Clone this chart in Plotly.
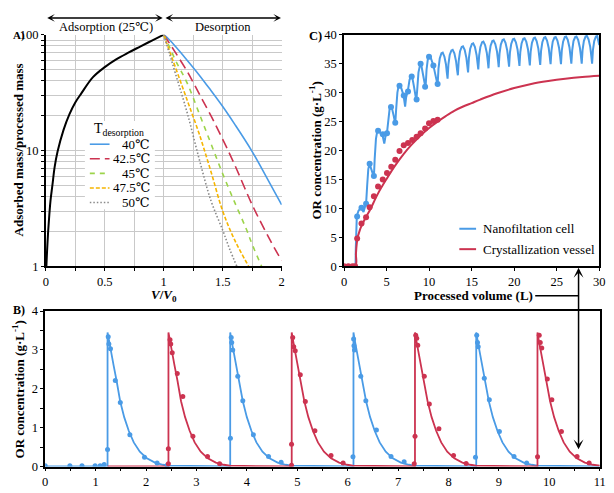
import plotly.graph_objects as go

W, H = 614, 493
OFF = 8  # the page body margin shifts the figure by this many pixels
def px(x): return (x - OFF) / W
def py(y): return 1 - (y - OFF) / H

# ---------------- Panel A data ----------------
ads_x = [0.005, 0.01, 0.02, 0.03, 0.04, 0.056, 0.075, 0.1, 0.15, 0.2, 0.25, 0.3, 0.4, 0.5, 0.6, 0.7, 0.8, 0.9, 1.0]
ads_y = [1.0, 1.3, 2.0, 2.8, 3.7, 5.0, 7.2, 9.8, 15, 20.5, 26, 31, 43, 52.5, 61.5, 70, 79, 89, 100]

des40_x = [1.0, 1.05, 1.1, 1.2, 1.3, 1.4, 1.5, 1.6, 1.75, 1.9, 2.0]
des40_y = [100, 90, 79, 60, 45, 33, 24, 17, 9.8, 5.2, 3.4]
des425_x = [1.0, 1.05, 1.1, 1.2, 1.3, 1.4, 1.5, 1.6, 1.75, 1.9, 2.0]
des425_y = [100, 84, 70, 48, 31, 20, 12.5, 7.6, 3.4, 1.7, 1.12]
des45_x = [1.0, 1.05, 1.1, 1.2, 1.3, 1.4, 1.5, 1.6, 1.7, 1.75, 1.83]
des45_y = [100, 78, 60, 38, 21, 11.5, 6.3, 3.6, 2.1, 1.55, 1.0]
des475_x = [1.0, 1.05, 1.1, 1.2, 1.3, 1.4, 1.5, 1.6, 1.72]
des475_y = [100, 72, 52, 27, 14, 6.6, 3.0, 1.7, 1.0]
des50_x = [1.0, 1.05, 1.1, 1.2, 1.3, 1.4, 1.5, 1.56, 1.62]
des50_y = [100, 68, 46, 21, 8.5, 3.7, 2.05, 1.4, 1.0]

a_xticks = [0, 0.25, 0.5, 0.75, 1, 1.25, 1.5, 1.75, 2]
a_xtext = ["0", "", "0.5", "", "1", "", "1.5", "", "2"]
a_yticks = [1, 2, 3, 4, 5, 6, 7, 8, 9, 10, 20, 30, 40, 50, 60, 70, 80, 90, 100]
a_ytext = ["1", "", "", "", "", "", "", "", "", "10", "", "", "", "", "", "", "", "", "100"]
legend_a_labels = ["40℃", "42.5℃", "45℃", "47.5℃", "50℃"]

# ---------------- Panel C data ----------------
c_nf_x = [0, 1.35, 1.38, 1.45, 1.5, 1.7, 2.0, 2.29,
          2.5, 2.6, 2.72, 2.85, 3.0, 3.2, 3.51,
          3.6, 3.75, 3.9, 4.0, 4.2, 4.5, 4.73,
          4.85, 5.05, 5.2, 5.35, 5.5, 5.65, 5.85, 6.02,
          6.12, 6.27, 6.42, 6.52, 6.72, 7.0, 7.18,
          7.3, 7.5, 7.7, 7.9, 8.0, 8.2, 8.5,
          8.6, 8.75, 8.95, 9.05, 9.3, 9.58,
          9.7, 9.85, 10.0, 10.2, 10.5, 10.75,
          11.0, 11.1, 11.25, 11.45, 11.6, 11.8, 11.98, 12.08,
          12.17, 12.27, 12.42, 12.62, 12.77, 12.97, 13.17, 13.29,
          13.38, 13.48, 13.63, 13.83, 13.98, 14.18, 14.38, 14.5,
          14.58, 14.68, 14.83, 15.03, 15.18, 15.38, 15.58, 15.7,
          15.78, 15.88, 16.03, 16.23, 16.38, 16.58, 16.78, 16.9,
          16.98, 17.08, 17.23, 17.43, 17.58, 17.78, 17.98, 18.1,
          18.18, 18.28, 18.43, 18.63, 18.78, 18.98, 19.18, 19.3,
          19.4, 19.5, 19.65, 19.85, 20.0, 20.2, 20.4, 20.52,
          20.62, 20.72, 20.87, 21.07, 21.22, 21.42, 21.62, 21.74,
          21.84, 21.94, 22.09, 22.29, 22.44, 22.64, 22.84, 22.96,
          23.06, 23.16, 23.31, 23.51, 23.66, 23.86, 24.06, 24.18,
          24.28, 24.38, 24.53, 24.73, 24.88, 25.08, 25.28, 25.4,
          25.5, 25.6, 25.75, 25.95, 26.1, 26.3, 26.5, 26.62,
          26.72, 26.82, 26.97, 27.17, 27.32, 27.52, 27.72, 27.84,
          27.94, 28.04, 28.19, 28.39, 28.54, 28.74, 28.94, 29.06,
          29.16, 29.26, 29.41, 29.61, 29.76, 30.0]
c_nf_y = [0, 0, 3.0, 7.5, 8.7, 9.6, 10.1, 9.4,
          10.7, 11.0, 14.0, 16.8, 17.7, 16.8, 15.4,
          18.5, 22.0, 23.3, 23.4, 23.1, 22.8, 21.2,
          22.3, 23.1, 25.5, 27.1, 27.5, 27.2, 25.9, 24.6,
          27.0, 30.0, 31.2, 31.3, 30.8, 29.5, 27.6,
          29.2, 30.3, 32.2, 32.9, 32.8, 31.2, 28.6,
          30.5, 33.5, 34.9, 35.0, 33.0, 30.8,
          34.0, 35.8, 36.2, 36.0, 34.7, 33.0,
          31.3, 34.1, 35.9, 36.8, 36.9, 36.2, 34.9, 33.5,
          32.4, 34.9, 36.5, 37.3, 37.4, 36.8, 35.4, 33.9,
          33.0, 35.5, 37.1, 37.9, 38.0, 37.4, 36.0, 34.5,
          33.5, 36.0, 37.6, 38.4, 38.5, 37.9, 36.5, 35.0,
          34.0, 36.4, 37.9, 38.7, 38.8, 38.2, 36.9, 35.4,
          34.2, 36.6, 38.1, 38.9, 39.0, 38.4, 37.1, 35.6,
          34.4, 36.8, 38.3, 39.1, 39.2, 38.6, 37.3, 35.8,
          34.5, 36.9, 38.4, 39.2, 39.3, 38.7, 37.4, 35.9,
          34.6, 37.0, 38.5, 39.3, 39.4, 38.8, 37.5, 36.0,
          34.7, 37.1, 38.6, 39.4, 39.5, 38.9, 37.6, 36.1,
          34.8, 37.2, 38.7, 39.5, 39.6, 39.0, 37.7, 36.2,
          34.9, 37.2, 38.8, 39.5, 39.6, 39.0, 37.7, 36.3,
          34.9, 37.3, 38.8, 39.6, 39.7, 39.1, 37.8, 36.3,
          35.0, 37.3, 38.9, 39.6, 39.7, 39.1, 37.8, 36.4,
          35.0, 37.4, 38.9, 39.7, 39.8, 39.2, 37.9, 36.4,
          35.0, 37.4, 38.9, 39.7, 39.8, 38.2]
c_nf_mx = [1.54, 2.05, 2.59, 3.01, 3.51, 4.0, 4.55, 5.05, 5.52, 6.02, 6.52, 7.02, 7.52, 7.95, 8.53, 9.0, 9.53, 9.99, 10.5, 11.0]
c_nf_my = [8.6, 10.1, 10.8, 17.7, 15.6, 23.4, 22.8, 23.0, 27.5, 24.8, 31.2, 29.5, 30.2, 32.8, 28.8, 35.0, 31.0, 36.2, 34.7, 31.5]

c_cv_x = [0, 1.33, 1.4, 1.5, 1.6, 1.8, 2.0, 2.5, 3.0, 4.0, 5.0, 6.0, 7.0, 8.0, 9.0, 10.0, 11.0, 12.0,
          13.0, 14.0, 15.0, 16.0, 18.0, 20.0, 22.0, 24.0, 26.0, 28.0, 30.0]
c_cv_y = [0, 0, 2.2, 4.0, 5.0, 6.0, 6.8, 8.3, 9.6, 12.6, 15.1, 17.4, 19.4, 21.1, 22.6, 23.9, 25.0, 26.0,
          26.9, 27.6, 28.2, 28.8, 29.9, 30.8, 31.5, 32.0, 32.4, 32.7, 32.9]
c_cv_mx = [0, 0.5, 1.0, 1.3, 1.54, 2.05, 2.59, 3.01, 3.51, 4.0, 4.55, 5.05, 5.55, 6.02, 6.52, 7.02,
           7.52, 8.02, 8.53, 9.0, 9.53, 9.99, 10.5, 11.0]
c_cv_my = [0, 0, 0, 0, 4.8, 7.4, 8.5, 10.2, 12.1, 13.8, 15.0, 16.1, 17.2, 18.4, 19.9, 20.9,
           21.3, 21.8, 22.4, 23.0, 23.8, 24.7, 25.1, 25.3]

# ---------------- Panel B data ----------------
b_blue_x = [0,
            1.237, 1.237, 1.267, 1.307, 1.357, 1.417, 1.487, 1.567, 1.657, 1.757, 1.877, 2.017, 2.177, 2.337, 2.445,
            3.67, 3.67, 3.70, 3.74, 3.79, 3.85, 3.92, 4.00, 4.09, 4.19, 4.31, 4.45, 4.61, 4.77, 4.88,
            6.115, 6.115, 6.145, 6.185, 6.235, 6.295, 6.365, 6.445, 6.535, 6.635, 6.755, 6.895, 7.055, 7.215, 7.325,
            8.55, 8.55, 8.58, 8.62, 8.67, 8.73, 8.80, 8.88, 8.97, 9.07, 9.19, 9.33, 9.49, 9.65, 9.76,
            11.0]
b_blue_y = [0,
            0, 3.45, 3.22, 2.95, 2.6, 2.2, 1.68, 1.27, 0.92, 0.62, 0.38, 0.21, 0.1, 0.045, 0.02,
            0, 3.45, 3.22, 2.95, 2.6, 2.2, 1.68, 1.27, 0.92, 0.62, 0.38, 0.21, 0.1, 0.045, 0.02,
            0, 3.45, 3.22, 2.95, 2.6, 2.2, 1.68, 1.27, 0.92, 0.62, 0.38, 0.21, 0.1, 0.045, 0.02,
            0, 3.45, 3.22, 2.95, 2.6, 2.2, 1.68, 1.27, 0.92, 0.62, 0.38, 0.21, 0.1, 0.045, 0.02,
            0]
b_red_x = [1.237,
           2.445, 2.445, 2.475, 2.515, 2.565, 2.625, 2.695, 2.775, 2.865, 2.965, 3.085, 3.225, 3.385, 3.545, 3.66,
           4.89, 4.89, 4.92, 4.96, 5.01, 5.07, 5.14, 5.22, 5.31, 5.41, 5.53, 5.67, 5.83, 5.99, 6.10,
           7.335, 7.335, 7.365, 7.405, 7.455, 7.515, 7.585, 7.665, 7.755, 7.855, 7.975, 8.115, 8.275, 8.435, 8.545,
           9.765, 9.765, 9.795, 9.835, 9.885, 9.945, 10.015, 10.095, 10.185, 10.285, 10.405, 10.545, 10.705, 10.865, 11.0]
b_red_y = [0,
           0, 3.45, 3.22, 2.95, 2.6, 2.2, 1.68, 1.27, 0.92, 0.62, 0.38, 0.21, 0.1, 0.045, 0.02,
           0, 3.45, 3.22, 2.95, 2.6, 2.2, 1.68, 1.27, 0.92, 0.62, 0.38, 0.21, 0.1, 0.045, 0.02,
           0, 3.45, 3.22, 2.95, 2.6, 2.2, 1.68, 1.27, 0.92, 0.62, 0.38, 0.21, 0.1, 0.045, 0.02,
           0, 3.45, 3.22, 2.95, 2.6, 2.2, 1.68, 1.27, 0.92, 0.62, 0.38, 0.21, 0.1, 0.045, 0.02]
b_blue_mx = [0, 0.49, 0.73, 0.99, 1.09, 1.17,
             1.237, 1.25, 1.263, 1.295, 1.39, 1.49, 1.68, 1.97, 2.22, 2.42,
             3.674, 3.69, 3.70, 3.72, 3.82, 3.92, 4.13, 4.43, 4.68,
             6.105, 6.118, 6.125, 6.135, 6.26, 6.36, 6.57, 6.86, 7.12,
             8.535, 8.56, 8.575, 8.59, 8.71, 8.81, 9.01, 9.3, 9.55]
b_blue_my = [0.02, 0.02, 0.02, 0.02, 0.02, 0.05,
             0.44, 3.34, 3.15, 3.03, 2.21, 1.65, 0.82, 0.24, 0.09, 0.03,
             0.73, 3.32, 3.19, 3.0, 2.32, 1.69, 0.82, 0.26, 0.11,
             0.25, 3.28, 3.11, 3.0, 2.32, 1.69, 0.94, 0.26, 0.12,
             0.24, 3.38, 3.19, 3.08, 2.27, 1.72, 0.9, 0.26, 0.09]
b_red_mx = [2.443, 2.443, 2.476, 2.49, 2.52, 2.62, 2.73, 2.93, 3.22, 3.46,
            4.887, 4.887, 4.91, 4.93, 4.96, 5.06, 5.16, 5.35, 5.67, 5.91,
            7.32, 7.336, 7.35, 7.37, 7.39, 7.52, 7.62, 7.81, 8.1, 8.35,
            9.766, 9.80, 9.82, 9.85, 9.96, 10.05, 10.24, 10.55, 10.79]
b_red_my = [0.07, 0.46, 3.26, 3.15, 2.93, 2.39, 1.8, 0.78, 0.26, 0.07,
            0.03, 0.57, 3.32, 3.08, 2.98, 2.36, 1.67, 0.92, 0.28, 0.09,
            0.07, 0.78, 3.38, 3.3, 3.12, 2.32, 1.61, 0.97, 0.28, 0.08,
            0.25, 3.38, 3.19, 3.05, 2.25, 1.72, 0.9, 0.26, 0.09]

# ---------------- styling ----------------
BLUE = "#4a9be6"
RED = "#cc3350"
GREEN = "#9cd44a"
YELLOW = "#f6b500"
GRAY = "#8a8a8a"
FONT = "Liberation Serif, Times New Roman, DejaVu Serif, serif"

fig = go.Figure()

# Panel A traces
fig.add_trace(go.Scatter(x=ads_x, y=ads_y, mode="lines", line=dict(color="black", width=2, shape="spline"),
                         name="Adsorption", showlegend=False, xaxis="x", yaxis="y"))
des_sets = [(des40_x, des40_y, BLUE, "solid", "40℃"),
            (des425_x, des425_y, RED, "10px,5px", "42.5℃"),
            (des45_x, des45_y, GREEN, "5px,5px", "45℃"),
            (des475_x, des475_y, YELLOW, "4px,2px", "47.5℃"),
            (des50_x, des50_y, GRAY, "1.5px,2px", "50℃")]
for dx, dy, col, dash, nm in des_sets:
    fig.add_trace(go.Scatter(x=dx, y=dy, mode="lines", line=dict(color=col, width=1.6, dash=dash, shape="spline"),
                             name=nm, showlegend=False, xaxis="x", yaxis="y"))

# Panel C traces
fig.add_trace(go.Scatter(x=c_nf_x, y=c_nf_y, mode="lines", line=dict(color=BLUE, width=2),
                         name="Nanofiltation cell", showlegend=False, xaxis="x2", yaxis="y2"))
fig.add_trace(go.Scatter(x=c_cv_x, y=c_cv_y, mode="lines", line=dict(color=RED, width=2, shape="spline"),
                         name="Crystallization vessel", showlegend=False, xaxis="x2", yaxis="y2"))
fig.add_trace(go.Scatter(x=c_nf_mx, y=c_nf_my, mode="markers", marker=dict(color=BLUE, size=6),
                         showlegend=False, xaxis="x2", yaxis="y2"))
fig.add_trace(go.Scatter(x=c_cv_mx, y=c_cv_my, mode="markers", marker=dict(color=RED, size=6),
                         showlegend=False, xaxis="x2", yaxis="y2"))

# Panel B traces
fig.add_trace(go.Scatter(x=b_blue_x, y=b_blue_y, mode="lines", line=dict(color=BLUE, width=1.8),
                         showlegend=False, xaxis="x3", yaxis="y3"))
fig.add_trace(go.Scatter(x=b_red_x, y=b_red_y, mode="lines", line=dict(color=RED, width=1.8),
                         showlegend=False, xaxis="x3", yaxis="y3"))
fig.add_trace(go.Scatter(x=b_blue_mx, y=b_blue_my, mode="markers", marker=dict(color=BLUE, size=5),
                         showlegend=False, xaxis="x3", yaxis="y3"))
fig.add_trace(go.Scatter(x=b_red_mx, y=b_red_my, mode="markers", marker=dict(color=RED, size=5),
                         showlegend=False, xaxis="x3", yaxis="y3"))

tickfont = dict(family=FONT, size=12.5, color="black")
common = dict(showline=True, linecolor="black", linewidth=1.5, ticks="outside", ticklen=3,
              tickcolor="black", tickwidth=1.2, zeroline=False, tickfont=tickfont)

fig.update_layout(
    width=W, height=H, margin=dict(l=0, r=0, t=0, b=0),
    paper_bgcolor="white", plot_bgcolor="white", showlegend=False,
    font=dict(family=FONT, color="black"),
    xaxis=dict(domain=[px(43.3), px(282.7)], range=[0, 2], tickvals=a_xticks, ticktext=a_xtext,
               showgrid=True, gridcolor="#c9c9c9", gridwidth=1, anchor="y", **common),
    yaxis=dict(domain=[py(266.7), py(28.3)], type="log", range=[0, 2], tickvals=a_yticks, ticktext=a_ytext,
               showgrid=True, gridcolor="#c9c9c9", gridwidth=1, anchor="x", **common),
    xaxis2=dict(domain=[px(346), px(605)], range=[0, 30], dtick=5, showgrid=False, mirror=True,
                anchor="y2", **common),
    yaxis2=dict(domain=[py(266.7), py(28.3)], range=[0, 40], dtick=5, showgrid=False, mirror=True,
                anchor="x2", **common),
    xaxis3=dict(domain=[px(42.7), px(605.5)], range=[0, 11], dtick=1, showgrid=False, mirror=True,
                minor=dict(dtick=0.5, ticks="outside", ticklen=3, tickcolor="black"),
                anchor="y3", **common),
    yaxis3=dict(domain=[py(472.7), py(312.7)], range=[0, 4], dtick=1, showgrid=False, mirror=True,
                minor=dict(dtick=0.5, ticks="outside", ticklen=3, tickcolor="black"),
                anchor="x3", **common),
)

ann = []
def text(x, y, t, size=13, xanchor="center", yanchor="middle", angle=0):
    ann.append(dict(x=px(x), y=py(y), xref="paper", yref="paper", text=t, showarrow=False,
                    xanchor=xanchor, yanchor=yanchor, textangle=angle,
                    font=dict(family=FONT, size=size, color="black")))

def arrow(x1, y1, x0, y0, size=1.1):
    ann.append(dict(x=px(x1), y=py(y1), xref="paper", yref="paper", ax=x0 - x1, ay=y0 - y1,
                    axref="pixel", ayref="pixel", text="", showarrow=True, arrowhead=3, arrowside="end+start",
                    arrowsize=size, arrowwidth=1.5, arrowcolor="black", standoff=0, startstandoff=0))

# panel labels
text(8, 29, "<b>A)</b>", 11, xanchor="left")
text(8, 312, "<b>B)</b>", 12, xanchor="left")
text(317, 30, "<b>C)</b>", 12.5)
# top arrows
arrow(162, 11, 45, 11, 0.85)
arrow(282, 11, 165, 11, 0.85)
text(104, 20, "Adsorption (25℃)", 12.5)
text(223, 20, "Desorption", 12.5)
# axis titles
text(15.5, 147, "<b>Adsorbed mass/processed mass</b>", 13, angle=-90)
text(163, 297, "<b><i>V</i>/<i>V</i><sub>0</sub></b>", 13)
text(317, 147, "<b>OR concentration (g·L<sup>-1</sup>)</b>", 13, angle=-90)
text(15.5, 393, "<b>OR concentration (g·L<sup>-1</sup>)</b>", 13, angle=-90)
text(477, 297, "<b>Processed volume (L)</b>", 13)
# linking arrow
arrow(584, 455, 584, 272)

# legend A (manual)
text(90, 126, "T<sub>desorption</sub>", 14, xanchor="left")
leg_y = [141, 156, 171, 186, 201]
leg_cols = [BLUE, RED, GREEN, YELLOW, GRAY]
leg_dash = ["solid", "10px,5px", "5px,5px", "4px,2px", "1.5px,2px"]
shapes = [dict(type="rect", xref="paper", yref="paper", x0=px(83), x1=px(154), y0=py(208), y1=py(117),
               fillcolor="white", line=dict(width=0), layer="above")]
for yy, col, dsh, lab in zip(leg_y, leg_cols, leg_dash, legend_a_labels):
    shapes.append(dict(type="line", xref="paper", yref="paper", x0=px(88), x1=px(108), y0=py(yy), y1=py(yy),
                       line=dict(color=col, width=1.6, dash=dsh), layer="above"))
    text(151, yy, lab, 13, xanchor="right")

# legend C (manual)
for yy, col, lab in [(228, BLUE, "Nanofiltation cell"), (249, RED, "Crystallization vessel")]:
    shapes.append(dict(type="line", xref="paper", yref="paper", x0=px(463), x1=px(480), y0=py(yy), y1=py(yy),
                       line=dict(color=col, width=2), layer="above"))
    text(485, yy, lab, 13, xanchor="left")

# connector line from C x-title to linking arrow
shapes.append(dict(type="line", xref="paper", yref="paper", x0=px(540), x1=px(584), y0=py(297), y1=py(297),
                   line=dict(color="black", width=1.5)))

fig.update_layout(annotations=ann, shapes=shapes)
fig.write_html("out.html")
